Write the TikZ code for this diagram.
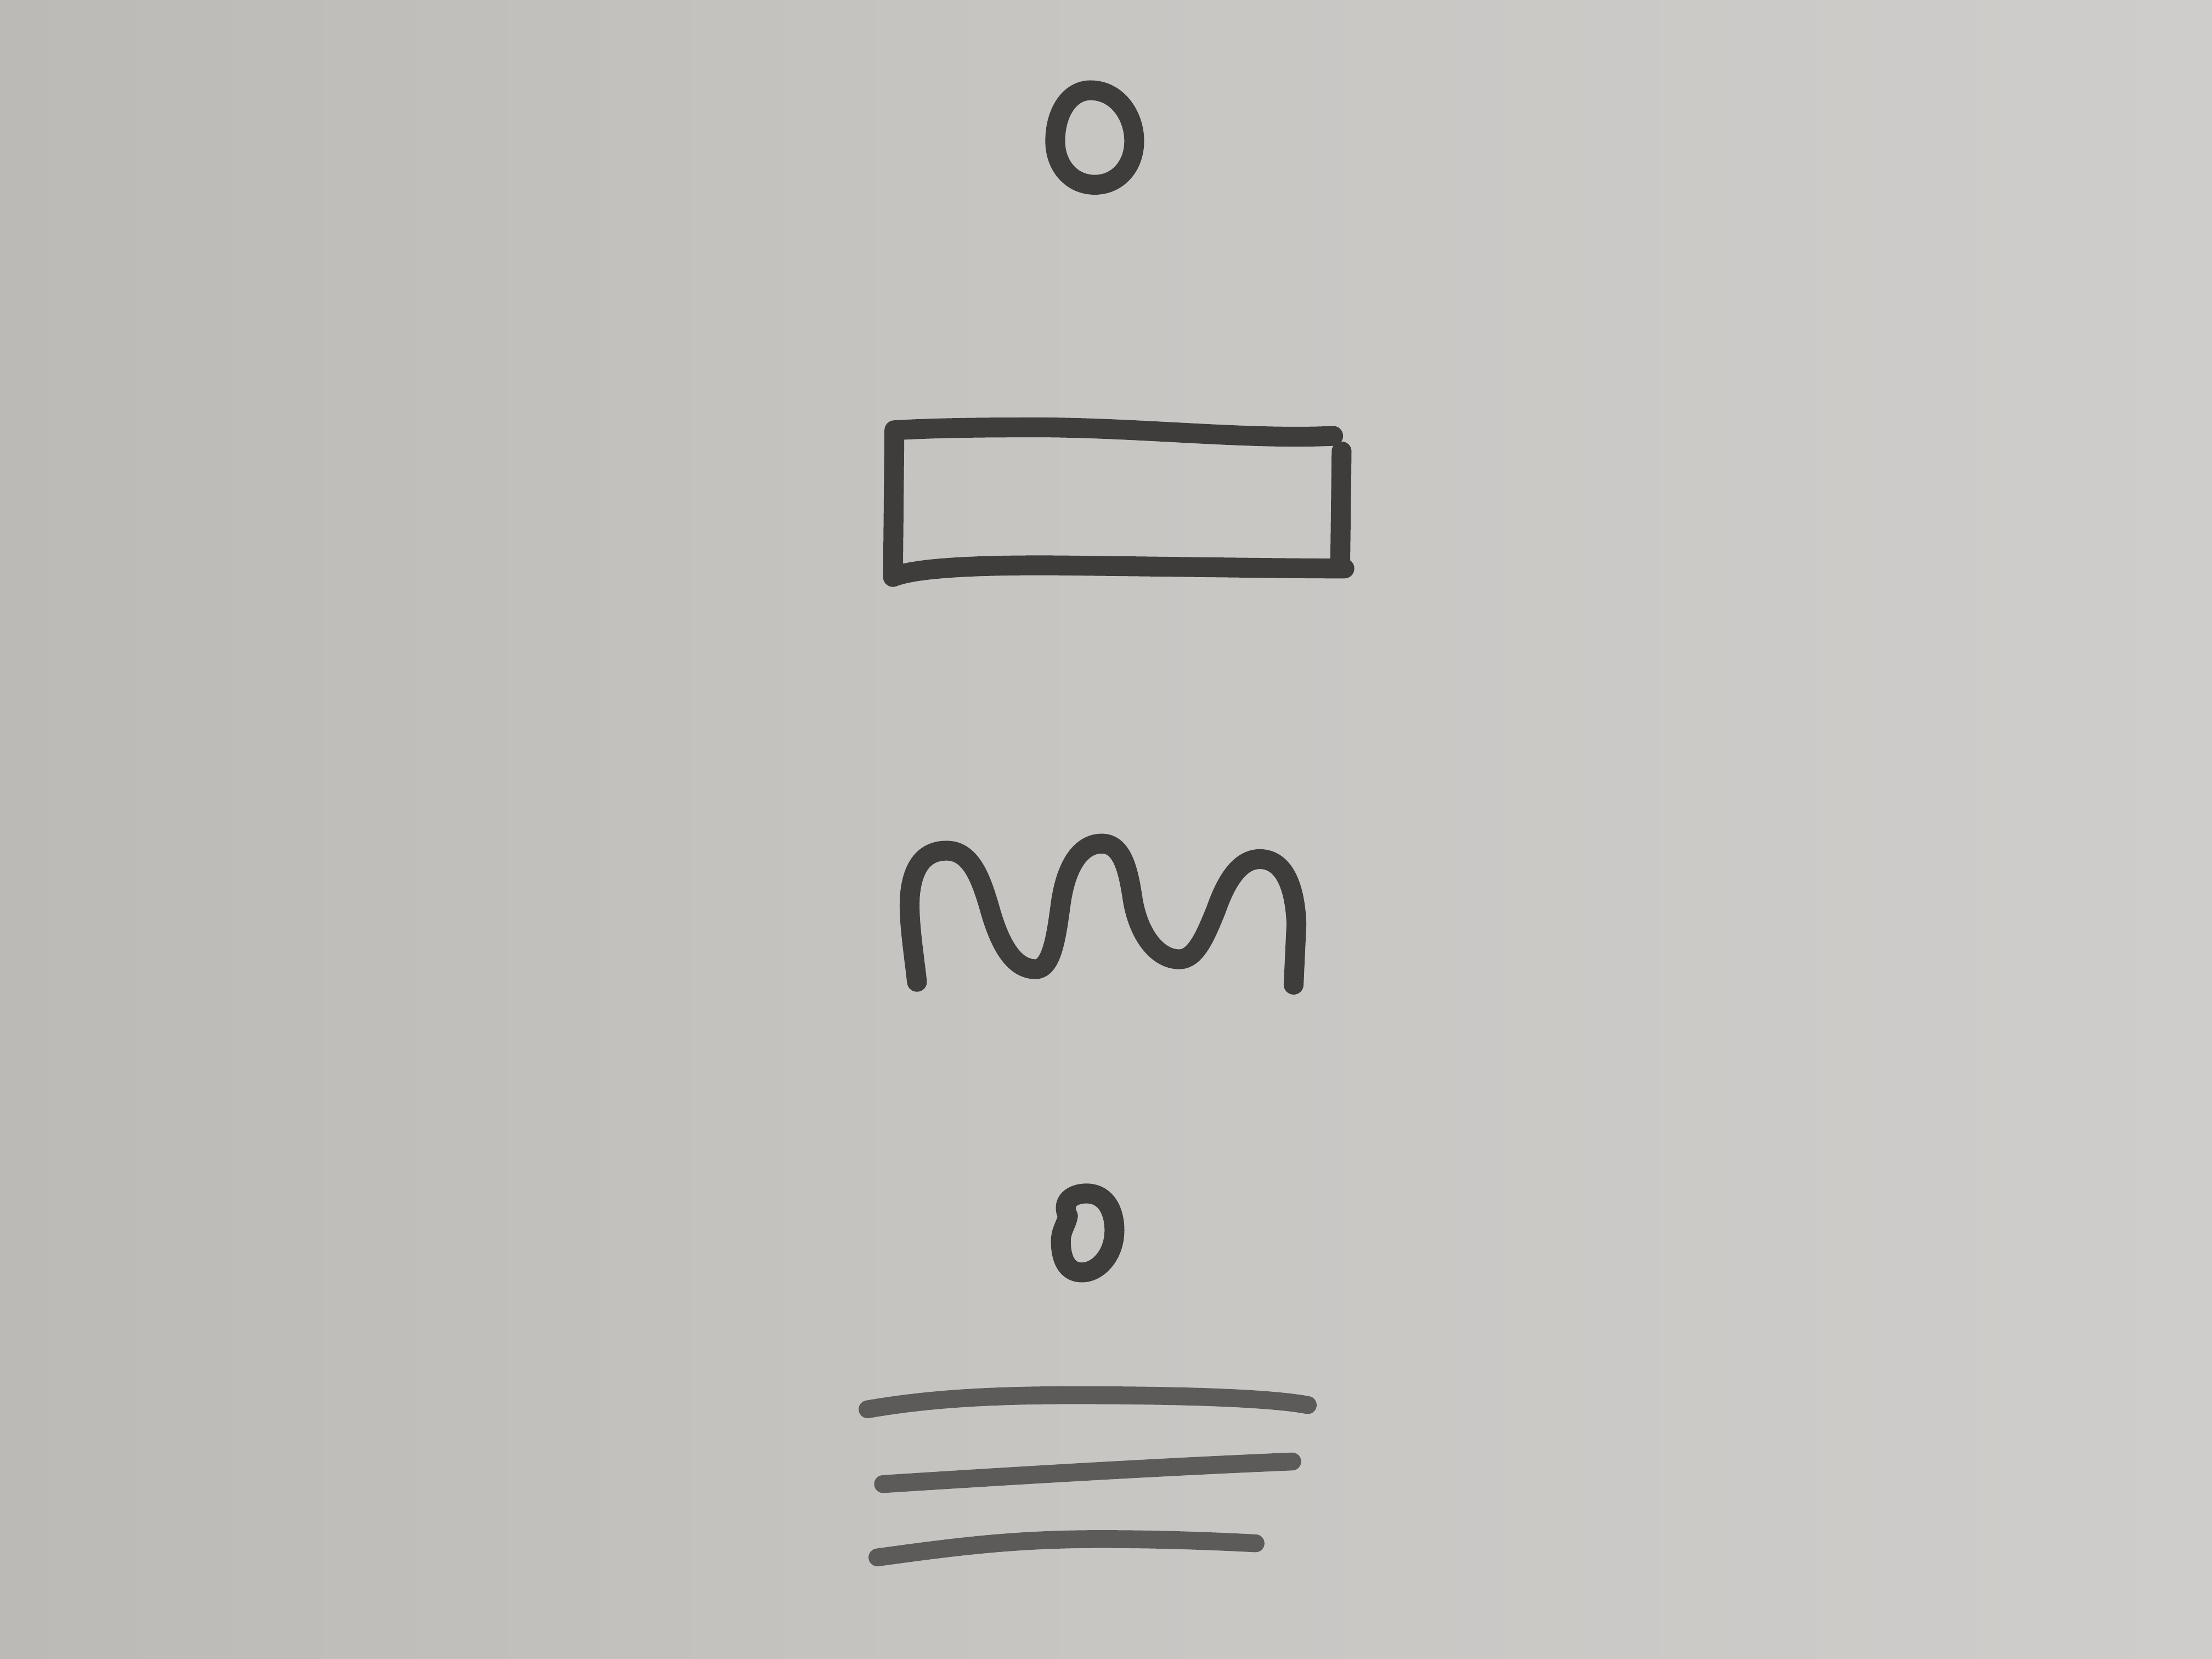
\documentclass[tikz,border=0pt]{standalone}
\begin{document}
\begin{tikzpicture}[x=0.01cm,y=-0.01cm,
  ink/.style={draw=inkc,line width=4pt,line cap=round,line join=round},
  softink/.style={draw=inkc!78!boardc,line width=3.6pt,line cap=round,line join=round}]
\definecolor{inkc}{RGB}{62,61,60}
\definecolor{boardc}{RGB}{200,198,195}
\definecolor{boardl}{RGB}{188,186,183}
\definecolor{boardr}{RGB}{206,205,203}
% whiteboard background
\shade[left color=boardl,right color=boardr,middle color=boardc] (0,0) rectangle (1568,1176);
\useasboundingbox (0,0) rectangle (1568,1176);
% top terminal
\draw[ink] (773,64) .. controls (792,64) and (804,82) .. (804,100)
  .. controls (804,118) and (792,131) .. (776,131)
  .. controls (760,131) and (748,118) .. (748,100)
  .. controls (748,80) and (758,64) .. (773,64) -- cycle;
% resistor (rectangle)
\draw[ink] (945,309) .. controls (880,312) and (800,302) .. (721,303)
  .. controls (680,303) and (650,304) .. (634,305) -- (633,409)
  .. controls (650,402) and (700,400) .. (767,401)
  .. controls (850,402) and (920,403) .. (953,403);
\draw[ink] (951,320) -- (950,401);
% inductor (coil)
\draw[ink] (650,696) .. controls (647,670) and (644,652) .. (645,635)
  .. controls (647,612) and (657,603) .. (671,603)
  .. controls (688,603) and (695,622) .. (701,642)
  .. controls (708,668) and (718,687) .. (734,687)
  .. controls (746,687) and (749,662) .. (752,640)
  .. controls (756,612) and (767,598) .. (781,598)
  .. controls (796,598) and (800,618) .. (803,638)
  .. controls (807,662) and (820,680) .. (836,680)
  .. controls (848,680) and (855,662) .. (862,645)
  .. controls (870,622) and (880,609) .. (893,609)
  .. controls (910,609) and (918,628) .. (919,655) -- (917,698);
% bottom terminal
\draw[ink] (757,862) .. controls (752,852) and (760,846) .. (770,846)
  .. controls (785,846) and (790,860) .. (790,872)
  .. controls (790,890) and (778,902) .. (767,902)
  .. controls (756,902) and (752,892) .. (752,880)
  .. controls (752,872) and (756,868) .. (757,862);
\fill[inkc] (759,862) circle[radius=5];
% ground symbol
\draw[softink] (615,999) .. controls (650,993) and (690,989) .. (760,989)
  .. controls (840,989) and (900,991) .. (927,996);
\draw[softink] (626,1052) .. controls (720,1046) and (820,1040) .. (916,1036);
\draw[softink] (622,1104) .. controls (680,1096) and (720,1091) .. (780,1091)
  .. controls (830,1091) and (870,1093) .. (890,1094);
\end{tikzpicture}
\end{document}
